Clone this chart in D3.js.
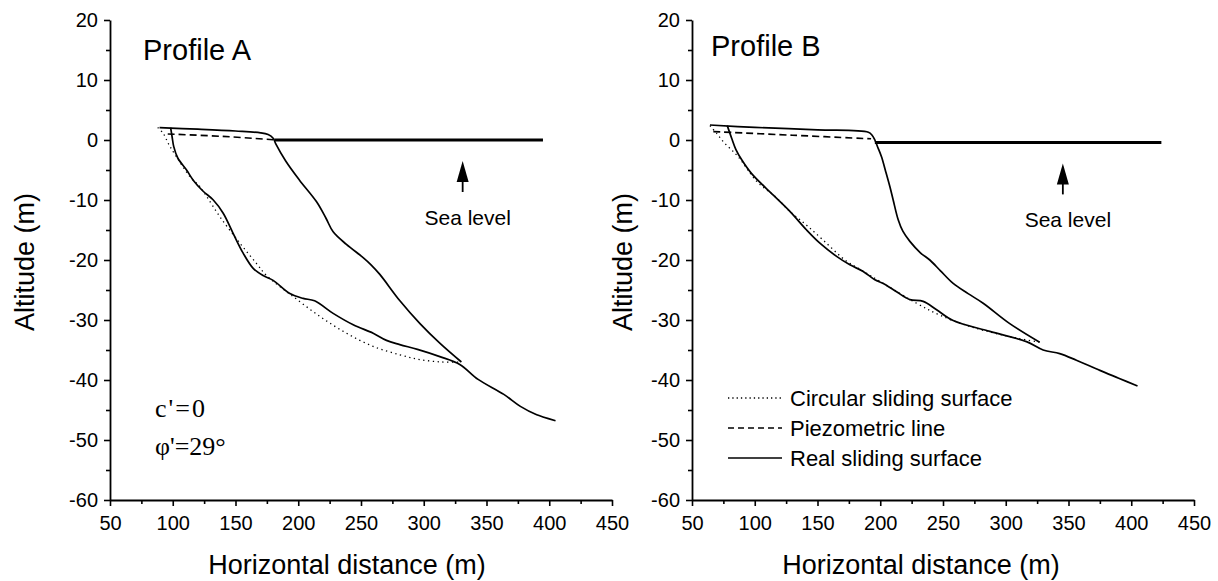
<!DOCTYPE html>
<html>
<head>
<meta charset="utf-8">
<script src="https://cdn.jsdelivr.net/npm/d3@7"></script>
<style>
  body { margin: 0; background: #fff; }
  svg { display: block; }
</style>
</head>
<body>
<script>
// ---- data (x: horizontal distance m, y: altitude m) ----
const xTicks = [50, 100, 150, 200, 250, 300, 350, 400, 450];
const yTicks = [-60, -50, -40, -30, -20, -10, 0, 10, 20];

// Profile A
const groundA = [[89.5,2.05],[120,1.8],[150,1.5],[170,1.2],[176,0.9],[180,0.3],[182,-0.6],[190,-3.5],[201,-6.7],[214.6,-10.3],[222,-13],[227.8,-15.3],[238.4,-17.4],[251.7,-19.6],[258,-20.8],[265,-22.4],[281,-26.8],[297,-30.6],[313,-33.9],[330,-37]];
const slipA = [[98.3,2.05],[99.5,0.5],[100.8,-1.1],[104,-3],[111,-5],[116.3,-6.7],[124,-8.5],[132.3,-10],[140.2,-12.2],[148.2,-15.6],[156.2,-18.9],[164.1,-21.4],[172,-22.6],[180,-23.4],[193.3,-25.6],[203.9,-26.4],[213,-26.8],[227.8,-28.9],[243.8,-30.8],[259.7,-32.2],[270.3,-33.4],[280.9,-34.1],[295,-34.9],[312.8,-36.1],[328.7,-37.4],[343.3,-39.9],[363.8,-42.4],[377,-44.4],[390,-45.8],[405,-46.8]];
const circleA = [[88,2.1],[92.4,1.1],[97,-0.8],[103,-2.8],[113.7,-6.1],[121.7,-7.8],[127,-9.4],[137.6,-12.8],[153.5,-17.2],[166.8,-20.6],[174.8,-22.6],[196,-26.1],[217.2,-29.4],[238.4,-32.2],[259.7,-34.4],[280.9,-35.8],[296.9,-36.6],[315,-37],[330,-37]];
const piezoA = [[96,1.0],[140,0.6],[180,0.05]];
const seaA = [[181,0],[395,0]];

// Profile B
const groundB = [[64.3,2.5],[100,2.1],[150,1.7],[190.5,1.3],[193.5,0.8],[195.7,0],[198,-1.2],[201,-2.8],[204,-5],[207.7,-7.8],[210.3,-10],[214.3,-13.3],[218,-15.2],[223.6,-16.9],[232,-18.8],[239.5,-20],[248,-21.8],[258.1,-23.9],[270,-25.6],[282,-27.2],[303.2,-30.6],[327,-33.7]];
const slipB = [[78.1,2.4],[81.6,0.3],[85,-1.6],[89.6,-3.3],[97.5,-5.6],[114.8,-9.2],[128,-11.9],[141.3,-15],[151.9,-17.2],[165.2,-19.4],[175.8,-20.8],[186.4,-21.9],[195.7,-23.3],[202.4,-23.9],[213,-25.3],[223.6,-26.6],[234.2,-26.9],[244.9,-28.3],[258.1,-30.1],[287.3,-31.9],[316.5,-33.6],[329.8,-35],[343,-35.6],[356.3,-36.7],[375,-38.4],[390,-39.7],[405,-41]];
const circleB = [[64.3,2.4],[70,1],[75,-0.3],[80.3,-1.4],[86.9,-2.8],[101.6,-6.9],[116.1,-9.4],[128,-11.9],[141.3,-14.2],[154.6,-16.7],[171.9,-20],[185.1,-21.7],[200,-23.6],[228.9,-27.2],[247.5,-29.2],[275,-31.3],[308.5,-33],[327,-33.7]];
const piezoB = [[67,1.4],[130,0.8],[192.7,0.2]];
const seaB = [[195.7,-0.4],[424,-0.4]];

const legendLabels = ["Circular sliding surface", "Piezometric line", "Real sliding surface"];

// ---- layout ----
const W = 1218, H = 581;
const SANS = "Liberation Sans, Arial, sans-serif";
const SERIF = "Liberation Serif, Times New Roman, serif";
const svg = d3.select("body").append("svg").attr("width", W).attr("height", H)
  .attr("font-family", SANS);

function drawPanel(left, cfg) {
  const x = d3.scaleLinear().domain([50, 450]).range([left, left + 502]);
  const y = d3.scaleLinear().domain([-60, 20]).range([500, 20]);
  const g = svg.append("g");

  // minor ticks
  const xMinor = d3.range(75, 450, 50);
  const yMinor = d3.range(-55, 20, 10);
  g.append("g").attr("transform", "translate(0,500)")
    .call(d3.axisBottom(x).tickValues(xMinor).tickSize(4).tickFormat(""))
    .call(a => a.select(".domain").remove());
  g.append("g").attr("transform", "translate(" + left + ",0)")
    .call(d3.axisLeft(y).tickValues(yMinor).tickSize(4).tickFormat(""))
    .call(a => a.select(".domain").remove());

  const fmt = d => String(d); // plain hyphen minus like the original
  g.append("g").attr("transform", "translate(0,500)")
    .call(d3.axisBottom(x).tickValues(xTicks).tickFormat(fmt).tickSize(6).tickSizeOuter(0).tickPadding(10));
  g.append("g").attr("transform", "translate(" + left + ",0)")
    .call(d3.axisLeft(y).tickValues(yTicks).tickFormat(fmt).tickSize(6).tickSizeOuter(0).tickPadding(6));
  g.selectAll(".tick line").attr("stroke", "#000").attr("stroke-width", 1.6);
  g.selectAll(".domain").attr("stroke", "#000").attr("stroke-width", 1.8);
  g.selectAll(".tick text").attr("font-family", SANS).attr("font-size", 20).attr("fill", "#000");

  // axis titles
  g.append("text").attr("x", cfg.xTitleX).attr("y", 574).attr("text-anchor", "middle")
    .attr("font-size", 27).text("Horizontal distance (m)");
  g.append("text").attr("transform", "translate(" + cfg.yTitleX + ",262) rotate(-90)")
    .attr("text-anchor", "middle").attr("font-size", 27).text("Altitude (m)");

  g.append("text").attr("x", cfg.titleX).attr("y", cfg.titleY)
    .attr("font-size", 29).text(cfg.title);

  const line = d3.line().x(d => x(d[0])).y(d => y(d[1])).curve(d3.curveCatmullRom.alpha(0.5));

  g.append("path").datum(cfg.circle).attr("d", line).attr("fill", "none")
    .attr("stroke", "#000").attr("stroke-width", 1.3).attr("stroke-dasharray", "1.3,3.5");
  g.append("path").datum(cfg.piezo).attr("d", line).attr("fill", "none")
    .attr("stroke", "#000").attr("stroke-width", 1.6).attr("stroke-dasharray", "7,4");
  g.append("path").datum(cfg.ground).attr("d", line).attr("fill", "none")
    .attr("stroke", "#000").attr("stroke-width", 1.7);
  g.append("path").datum(cfg.slip).attr("d", line).attr("fill", "none")
    .attr("stroke", "#000").attr("stroke-width", 1.7);
  g.append("path").datum(cfg.sea).attr("d", d3.line().x(d => x(d[0])).y(d => y(d[1])))
    .attr("fill", "none").attr("stroke", "#000").attr("stroke-width", 3);

  // sea level arrow + label
  const ax = x(cfg.arrowX), ay = y(cfg.sea[0][1]);
  g.append("line").attr("x1", ax).attr("x2", ax).attr("y1", ay + 52).attr("y2", ay + 38)
    .attr("stroke", "#000").attr("stroke-width", 1.8);
  g.append("path")
    .attr("d", `M${ax},${ay + 21} L${ax - 6},${ay + 42} L${ax + 6},${ay + 42}Z`)
    .attr("fill", "#000");
  g.append("text").attr("x", ax + 5).attr("y", ay + 85).attr("text-anchor", "middle")
    .attr("font-size", 21).text("Sea level");
  return { x, y, g };
}

const A = drawPanel(110, {
  title: "Profile A", titleX: 143, titleY: 60, xTitleX: 347, yTitleX: 34,
  ground: groundA, slip: slipA, circle: circleA, piezo: piezoA, sea: seaA, arrowX: 331
});
const B = drawPanel(692, {
  title: "Profile B", titleX: 711, titleY: 56, xTitleX: 921, yTitleX: 632,
  ground: groundB, slip: slipB, circle: circleB, piezo: piezoB, sea: seaB, arrowX: 345.5
});

// strength parameters (Profile A)
A.g.append("text").attr("x", 155).attr("y", 417).attr("font-family", SERIF)
  .attr("font-size", 26).attr("letter-spacing", 2).text("c'=0");
A.g.append("text").attr("x", 155).attr("y", 455).attr("font-family", SERIF)
  .attr("font-size", 26).text("\u03c6'=29\u00b0");

// legend (Profile B)
const dashes = ["1.3,3", "6,4", null];
const leg = B.g.append("g");
legendLabels.forEach((lab, i) => {
  const ly = 398 + i * 30;
  leg.append("line").attr("x1", 728).attr("x2", 782).attr("y1", ly).attr("y2", ly)
    .attr("stroke", "#000").attr("stroke-width", 1.4).attr("stroke-dasharray", dashes[i]);
  leg.append("text").attr("x", 790).attr("y", ly).attr("dy", "0.36em")
    .attr("font-size", 22).text(lab);
});
</script>
</body>
</html>
